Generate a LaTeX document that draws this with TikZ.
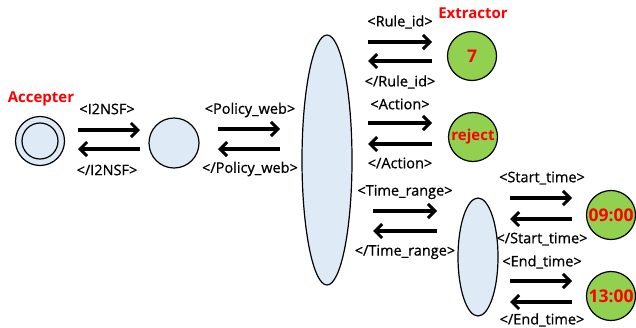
\documentclass[tikz,border=0pt]{standalone}
\usepackage{fontspec}
\setmainfont{Open Sans}
\newfontfamily\labfont{Open Sans}[FakeBold=0.8]
\usetikzlibrary{arrows.meta,shapes.geometric}
\definecolor{lblue}{HTML}{DEEBF7}
\definecolor{lgreen}{HTML}{92D050}
\definecolor{tred}{HTML}{FF0000}
\begin{document}
\begin{tikzpicture}[x=1pt,y=-1pt,
  st/.style={draw=black,line width=1.2pt,fill=lblue},
  gr/.style={circle,draw=black,line width=1.2pt,fill=lgreen,minimum size=49pt,inner sep=0pt,
    font=\fontsize{17.5}{18}\selectfont\bfseries,text=tred},
  lab/.style={font=\labfont\fontsize{14.5}{16}\selectfont,inner sep=0pt},
  ttl/.style={font=\fontsize{15}{17}\selectfont\bfseries,text=tred,inner sep=0pt},
  arr/.style={line width=3.2pt,-{Straight Barb[length=7pt,width=14pt,line width=3pt]}}]
\useasboundingbox (0,0) rectangle (636,327);
% nodes
\node[st,circle,minimum size=49pt,inner sep=0pt] (acc) at (40,141) {};
\node[circle,draw=black,line width=1.2pt,minimum size=36pt,inner sep=0pt] (accin) at (40,141) {};
\node[ttl] (acct) at (41,99) {Accepter};
\node[st,circle,minimum size=50pt,inner sep=0pt] (c2) at (174,143) {};
\node[st,ellipse,minimum width=50pt,minimum height=250pt,inner sep=0pt] (big) at (327,160) {};
\node[gr] (g7) at (472,56) {7};
\node[ttl] (ext) at (473,13) {Extractor};
\node[gr,font=\fontsize{15}{16}\selectfont\bfseries] (grej) at (473,137) {reject};
\node[st,ellipse,minimum width=40pt,minimum height=118pt,inner sep=0pt] (small) at (478,257) {};
\node[gr] (g9) at (611,215) {09:00};
\node[gr] (g13) at (611,296) {13:00};
% arrow anchors
\foreach \n/\xa/\xb/\ya/\yb in {i2/78/140/130/149, pw/218/280/129/149, ri/368/432/42/61, ac/368/432/123/144, tr/373/437/211/231, stt/510/572/198/219, et/510/572/281/302}{
  \coordinate (\n a) at (\xa,\ya);
  \coordinate (\n b) at (\xb,\ya);
  \coordinate (\n c) at (\xb,\yb);
  \coordinate (\n d) at (\xa,\yb);
  \draw[arr] (\n a) -- (\n b);
  \draw[arr] (\n c) -- (\n d);
}
% labels
\node[lab] (l1) at (107,109) {<I2NSF>};
\node[lab] (l2) at (107,170) {</I2NSF>};
\node[lab] (l3) at (250,110) {<Policy\_web>};
\node[lab] (l4) at (250,169) {</Policy\_web>};
\node[lab] (l5) at (400,22) {<Rule\_id>};
\node[lab] (l6) at (400,82) {</Rule\_id>};
\node[lab] (l7) at (400,104) {<Action>};
\node[lab] (l8) at (400,163) {</Action>};
\node[lab] (l9) at (405,192) {<Time\_range>};
\node[lab] (l10) at (405,252) {</Time\_range>};
\node[lab] (l11) at (542,178) {<Start\_time>};
\node[lab] (l12) at (542,239) {</Start\_time>};
\node[lab] (l13) at (542,262) {<End\_time>};
\node[lab] (l14) at (542,320) {</End\_time>};
\end{tikzpicture}
\end{document}
